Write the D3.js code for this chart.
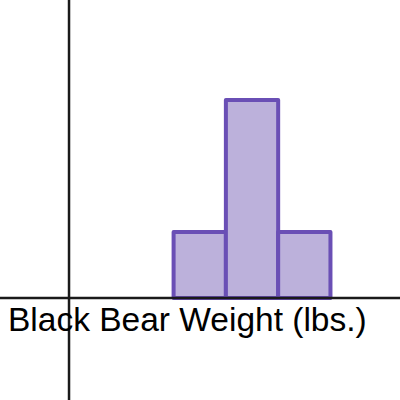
<!DOCTYPE html>
<html><head><meta charset="utf-8">
<script src="https://cdn.jsdelivr.net/npm/d3@7"></script>
<style>html,body{margin:0;padding:0;background:#fff;}svg{display:block;}</style>
</head><body>
<script>
const binStarts = [2, 3, 4];
const binWidth = 1;
const counts = [1, 3, 1];
const axisLabel = "Black Bear Weight (lbs.)";

const W = 400, H = 400;
const svg = d3.select("body").append("svg").attr("width", W).attr("height", H);

const x = d3.scaleLinear().domain([-1.32, 6.33]).range([0, W]);
const y = d3.scaleLinear().domain([-1.545, 4.515]).range([H, 0]);

// bars
svg.selectAll("rect.bar").data(binStarts).enter().append("rect")
  .attr("class", "bar")
  .attr("x", d => x(d))
  .attr("width", d => x(d + binWidth) - x(d))
  .attr("y", (d, i) => y(counts[i]))
  .attr("height", (d, i) => y(0) - y(counts[i]))
  .attr("fill", "#bcb1db")
  .attr("stroke", "#6a4fb5")
  .attr("stroke-width", 4)
  .attr("stroke-linejoin", "round");

// axes
svg.append("line").attr("x1", 0).attr("x2", W).attr("y1", y(0)).attr("y2", y(0))
  .attr("stroke", "#1a1a1a").attr("stroke-width", 2.5);
svg.append("line").attr("x1", x(0)).attr("x2", x(0)).attr("y1", 0).attr("y2", H)
  .attr("stroke", "#1a1a1a").attr("stroke-width", 2.5);

svg.append("text").attr("x", 8).attr("y", 331)
  .attr("font-family", "Liberation Sans, Arial, sans-serif")
  .attr("font-size", 33.5).attr("fill", "#000")
  .text(axisLabel);
</script>
</body></html>
